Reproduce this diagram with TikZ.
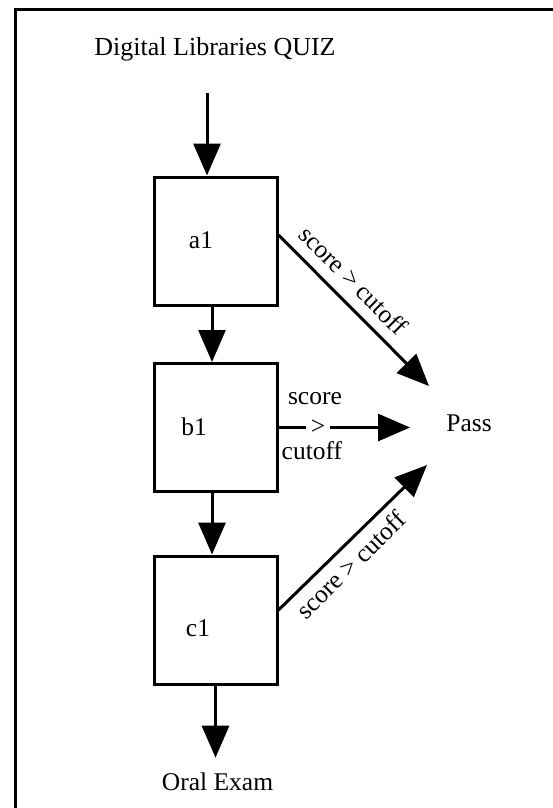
\documentclass[tikz,border=0pt]{standalone}
\usepackage{fontspec}
\setmainfont{Liberation Serif}
\usetikzlibrary{arrows.meta,calc}
\begin{document}
\begin{tikzpicture}[x=1pt,y=-1pt,
  lbl/.style={font=\fontsize{25.5}{30}\selectfont, inner sep=3pt},
  stage/.style={draw, line width=3pt, minimum width=123pt, minimum height=128pt, inner sep=0pt},
  flow/.style={line width=3pt, -{Triangle[length=32pt,width=27pt]}},
  cond/.style={lbl, sloped, pos=0.4}]
\useasboundingbox (0,0) rectangle (553,808);
% frame
\draw[line width=3pt] (15.5,808) -- (15.5,10) -- (553,10);

% title and end points
\node[lbl, font=\fontsize{26}{30}\selectfont, anchor=base] (title) at (215,56) {Digital Libraries QUIZ};
\node[lbl, anchor=base] (pass) at (469,431) {Pass};
\node[lbl, anchor=base] (oral) at (217.5,790) {Oral Exam};

% quiz stages
\node[stage] (a1) at (215.5,241) {};
\node[stage] (b1) at (215.5,427.5) {};
\node[stage] (c1) at (215.5,620) {};
\node[lbl] (a1t) at (201,240) {a1};
\node[lbl] (b1t) at (194,427) {b1};
\node[lbl] (c1t) at (198,628) {c1};

% arrow end points around Pass
\coordinate (entry) at (207,93);
\coordinate (pa) at ($(pass.base)+(-40,-45)$);
\coordinate (pb) at ($(pass.base)+(-59,-3.5)$);
\coordinate (pc) at ($(pass.base)+(-42,34)$);

% main flow
\draw[flow] (entry) -- (entry |- a1.north);
\draw[flow] ([xshift=-3.5pt]a1.south) -- ([xshift=-3.5pt]b1.north);
\draw[flow] ([xshift=-3.5pt]b1.south) -- ([xshift=-3.5pt]c1.north);
\draw[flow, shorten >=11.4pt] (c1.south) -- (c1.south |- oral.north);

% pass conditions
\draw[flow] ($(a1.east)+(0,-6)$) -- (pa)
  node[cond, above, inner ysep=10.6pt] (ca) {score > cutoff};
\draw[flow] (b1.east) -- (b1.east -| pb)
  node[lbl, pos=0.3, fill=white, inner sep=5pt] (gt) {>};
\node[lbl] (sc) at ($(gt)+(-3,-28.5)$) {score};
\node[lbl] (co) at ($(gt)+(-6,23)$) {cutoff};
\draw[flow] ($(c1.east)+(0,-10)$) -- (pc)
  node[cond, below, inner ysep=7.5pt] (cc) {score > cutoff};
\end{tikzpicture}
\end{document}
